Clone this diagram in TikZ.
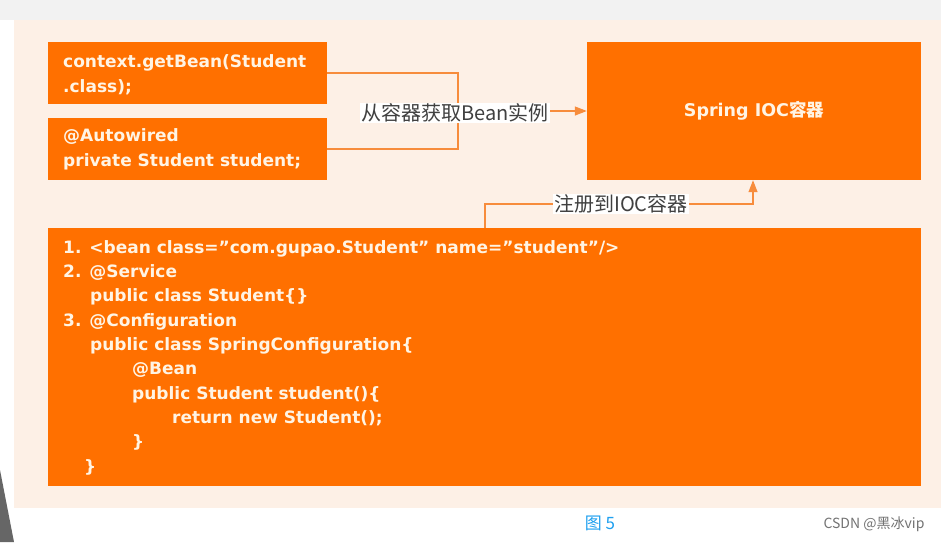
\documentclass[tikz,border=0pt]{standalone}
\usepackage{fontspec}
\setmainfont{DejaVu Sans}
\newfontfamily\cjk{Noto Sans CJK SC}
\usetikzlibrary{arrows.meta, positioning}
\definecolor{springorange}{RGB}{255,112,0}
\definecolor{panelbg}{RGB}{253,240,230}
\definecolor{codewhite}{RGB}{255,244,228}
\definecolor{linkline}{RGB}{247,140,60}
\definecolor{captionblue}{RGB}{30,160,240}
\tikzset{
  codebox/.style={rectangle, fill=springorange, draw=none, inner sep=0pt},
  codetext/.style={text=codewhite, align=left, anchor=base west, inner sep=0pt, font=\bfseries\fontsize{17}{24.3}\selectfont},
  tag/.style={fill=white, text=black!75, inner sep=1pt, font=\cjk\fontsize{20}{22}\selectfont},
  link/.style={draw=linkline, line width=1.2pt},
  arrow/.style={link, -{Triangle[length=12pt,width=9pt]}}
}

\begin{document}
\begin{tikzpicture}[x=1pt, y=-1pt]

  \useasboundingbox (0,0) rectangle (941,542);
  \fill[white] (0,0) rectangle (941,542);
  \fill[black!5] (0,0) rectangle (941,20);
  \fill[panelbg] (14,20) rectangle (941,508);
  \fill[black!60] (0,470) -- (14,542) -- (0,542) -- cycle;

  \node (getbean) [codebox, minimum width=279pt, minimum height=62pt] at (187.5,73) {};
  \node (autowired) [codebox, minimum width=279pt, minimum height=62pt] at (187.5,149) {};
  \node (ioc) [codebox, minimum width=334pt, minimum height=138pt] at (754,111) {};
  \node (code) [codebox, minimum width=873pt, minimum height=258pt] at (484.5,357) {};

  % base anchor sits on the last line
  \node (getbeantxt) [codetext] at (63,92) {context.getBean(Student\\.class);};
  \node (autowiredtxt) [codetext] at (63,166) {@Autowired\\private Student student;};
  \node (ioctxt) [codetext, anchor=center, font=\bfseries\fontsize{17.5}{20}\selectfont] at (754,111) {Spring IOC{\cjk\bfseries 容器}};
  \node (codetxt) [codetext] at (63,472) {1. <bean class="com.gupao.Student" name="student"/>\\
    2. @Service\\
    \hspace*{27pt}public class Student\{\}\\
    3. @Configuration\\
    \hspace*{27pt}public class SpringConfiguration\{\\
    \hspace*{69pt}@Bean\\
    \hspace*{69pt}public Student student()\{\\
    \hspace*{109pt}return new Student();\\
    \hspace*{69pt}\}\\
    \hspace*{21pt}\}};

  % fetch from container
  \coordinate (bend) at (458,111);
  \draw [link] (getbean.east) -| (bend) |- (autowired.east);
  \draw [arrow] (bend) -- (ioc.west);
  \node (fetchlbl) [tag] at (455,113) {从容器获取Bean实例};

  % register into container
  \coordinate (rise) at (485,204);
  \coordinate (turn) at (753,204);
  \draw [arrow] (code.north -| rise) -- (rise) -- (turn) -- (ioc.south -| turn);
  \node (registerlbl) [tag] at (621,204) {注册到IOC容器};

  \node (caption) [text=captionblue, font=\cjk\fontsize{17}{17}\selectfont] at (600,523) {图 5};
  \node (mark) [text=black!55, font=\cjk\fontsize{14}{14}\selectfont] at (874,524) {CSDN @黑冰vip};

\end{tikzpicture}
\end{document}
